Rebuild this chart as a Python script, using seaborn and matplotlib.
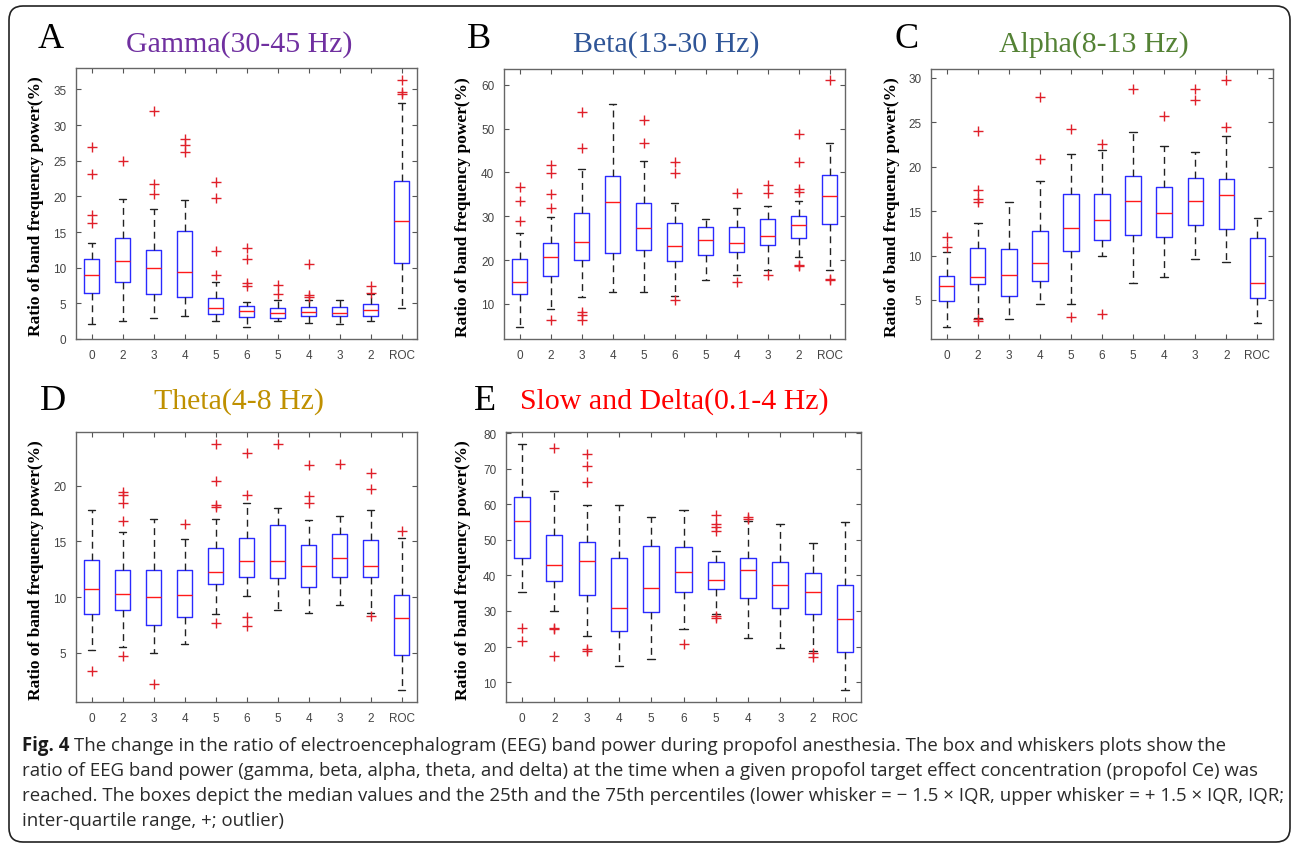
import matplotlib
matplotlib.use("Agg")
import matplotlib.pyplot as plt
import matplotlib.transforms as mtransforms
from matplotlib.patches import FancyBboxPatch
import seaborn as sns

# ---------------------------------------------------------------
# data: box statistics (ratio of band power, %)
# ---------------------------------------------------------------
conc_labels = ["0", "2", "3", "4", "5", "6", "5", "4", "3", "2", "ROC"]

gamma_lo  = [2.1, 2.5, 2.95, 3.2, 2.5, 1.75, 2.5, 2.3, 2.1, 2.5, 4.4]
gamma_q1  = [6.45, 8.05, 6.35, 5.9, 3.5, 3.05, 2.95, 3.2, 3.2, 3.25, 10.7]
gamma_med = [9.0, 11.0, 9.9, 9.35, 4.35, 3.9, 3.65, 3.85, 3.65, 4.05, 16.5]
gamma_q3  = [11.2, 14.2, 12.5, 15.2, 5.8, 4.65, 4.3, 4.55, 4.45, 4.85, 22.1]
gamma_hi  = [13.5, 19.6, 18.25, 19.5, 8.0, 5.25, 5.5, 5.5, 5.4, 6.3, 33.1]
gamma_out = [[16.3, 17.4, 23.2, 26.9], [24.9], [20.4, 21.7, 32.0],
             [26.25, 27.2, 28.0], [9.0, 12.3, 19.75, 22.0],
             [7.4, 7.8, 11.2, 12.8], [6.35, 7.6], [5.9, 6.1, 10.45], [],
             [6.4, 7.4], [34.3, 34.7, 36.3]]

beta_lo  = [4.75, 8.9, 11.6, 12.7, 12.8, 11.8, 15.5, 16.5, 17.8, 20.6, 17.8]
beta_q1  = [12.3, 16.3, 20.0, 21.6, 22.3, 19.9, 21.2, 21.9, 23.4, 25.0, 28.2]
beta_med = [15.1, 20.8, 24.2, 33.2, 27.35, 23.2, 24.7, 24.0, 25.5, 28.0, 34.7]
beta_q3  = [20.2, 23.8, 30.8, 39.3, 33.1, 28.5, 27.5, 27.5, 29.3, 30.1, 39.5]
beta_hi  = [26.1, 29.9, 40.7, 55.6, 42.6, 33.1, 29.3, 32.0, 32.4, 33.5, 46.7]
beta_out = [[28.9, 33.4, 36.6], [6.4, 31.9, 35.0, 39.8, 41.7],
            [6.35, 7.4, 8.2, 45.6, 53.7], [], [46.7, 51.9], [10.9, 39.8, 42.3],
            [], [14.9, 35.4], [16.7, 35.4, 37.2],
            [18.7, 18.9, 35.6, 36.3, 42.3, 48.8], [15.5, 15.8, 61.0]]

alpha_lo  = [2.0, 2.94, 2.82, 4.59, 4.59, 9.95, 6.95, 7.59, 9.65, 9.24, 2.41]
alpha_q1  = [4.85, 6.8, 5.49, 7.1, 10.5, 11.76, 12.28, 12.13, 13.4, 13.03, 5.26]
alpha_med = [6.58, 7.6, 7.78, 9.17, 13.07, 14.0, 16.19, 14.84, 16.19, 16.86, 6.88]
alpha_q3  = [7.74, 10.86, 10.78, 12.8, 16.94, 16.97, 19.0, 17.76, 18.78, 18.66, 11.98]
alpha_hi  = [10.44, 13.67, 16.07, 18.4, 21.4, 21.9, 23.96, 22.38, 21.6, 23.43, 14.27]
alpha_out = [[10.93, 12.1], [2.64, 2.82, 16.0, 16.37, 17.4, 24.0], [],
             [20.9, 27.86], [3.12, 24.2], [3.42, 22.6], [28.76], [25.72],
             [27.5, 28.76], [24.52, 29.74], []]

theta_lo  = [5.27, 5.54, 5.03, 5.8, 8.52, 10.13, 8.85, 8.55, 9.26, 8.61, 1.69]
theta_q1  = [8.46, 8.85, 7.48, 8.19, 11.14, 11.83, 11.71, 10.9, 11.83, 11.8, 4.85]
theta_med = [10.73, 10.25, 10.01, 10.19, 12.25, 13.26, 13.26, 12.75, 13.5, 12.75, 8.1]
theta_q3  = [13.29, 12.46, 12.46, 12.40, 14.42, 15.29, 16.42, 14.63, 15.62, 15.14, 10.16]
theta_hi  = [17.82, 15.83, 16.99, 15.23, 16.99, 18.45, 18.03, 16.87, 17.23, 17.82, 15.29]
theta_out = [[3.36], [4.76, 16.78, 18.45, 19.17, 19.46], [2.17], [16.57],
             [7.68, 18.1, 18.27, 20.42, 23.76], [7.45, 8.19, 19.17, 22.95],
             [23.7], [18.42, 19.1, 21.82], [21.97], [8.28, 19.7, 21.1], [15.89]]

delta_lo  = [35.2, 30.1, 22.9, 14.5, 16.4, 24.8, 29.2, 22.3, 19.7, 18.8, 7.7]
delta_q1  = [44.9, 38.4, 34.4, 24.3, 29.7, 35.2, 36.2, 33.6, 30.8, 29.1, 18.4]
delta_med = [55.4, 43.0, 44.0, 30.8, 36.45, 40.9, 38.6, 41.6, 37.3, 35.2, 27.6]
delta_q3  = [62.15, 51.4, 49.3, 45.0, 48.3, 47.9, 43.8, 44.8, 43.8, 40.65, 37.4]
delta_hi  = [76.8, 63.8, 59.7, 59.7, 56.35, 58.4, 46.9, 55.4, 54.5, 49.1, 55.1]
delta_out = [[21.5, 25.2], [17.3, 24.8, 25.1, 75.8], [18.8, 19.35, 66.3, 70.7, 74.2],
             [], [], [20.65], [27.9, 28.5, 52.4, 53.5, 54.4, 57.0], [55.9, 56.3],
             [], [17.1, 18.2], []]

# ---------------------------------------------------------------
# style
# ---------------------------------------------------------------
sns.set_theme(style="ticks")
plt.rcParams["font.family"] = ["Liberation Sans", "DejaVu Sans"]

W, H = 1292, 845
fig = plt.figure(figsize=(W / 100, H / 100), dpi=100)
fig.patch.set_facecolor("white")

def px_axes(left, top, right, bottom):
    return fig.add_axes([left / W, 1 - bottom / H, (right - left) / W, (bottom - top) / H])

def draw_panel(ax, lo, q1, med, q3, hi, out, yticks, ylim):
    stats = [dict(whislo=a, q1=b, med=c, q3=d, whishi=e, fliers=f)
             for a, b, c, d, e, f in zip(lo, q1, med, q3, hi, out)]
    ax.bxp(stats, positions=range(1, len(stats) + 1), widths=0.5, capwidths=0.25,
           boxprops=dict(color="#2a2aff", lw=1.0),
           medianprops=dict(color="#ff1a1a", lw=1.0),
           whiskerprops=dict(color="#222222", lw=1.0, ls=(0, (5, 3.5))),
           capprops=dict(color="#222222", lw=1.0),
           flierprops=dict(marker="+", markeredgecolor="#e0202a", markersize=7,
                           markeredgewidth=1.0, ls="none"))
    ax.set_xlim(0.5, 11.5)
    ax.set_ylim(*ylim)
    ax.set_xticks(range(1, 12))
    ax.set_xticklabels(conc_labels)
    ax.set_yticks(yticks)
    ax.tick_params(direction="in", top=True, right=True, length=3.5, width=0.8,
                   color="#555555", labelcolor="#444444", labelsize=8.5, pad=7)
    for sp in ax.spines.values():
        sp.set_color("#666666")
        sp.set_linewidth(1.0)

panels = [
    # (axes px box, stats, yticks, ylim, letter, title, colour, letter pos, title pos, ylabel x)
    ((76, 69, 417, 340), (gamma_lo, gamma_q1, gamma_med, gamma_q3, gamma_hi, gamma_out),
     range(0, 36, 5), (0, 38), "A", "Gamma(30-45 Hz)", "#7030a0", (51, 40), (239, 45), 36),
    ((504, 70, 845, 340), (beta_lo, beta_q1, beta_med, beta_q3, beta_hi, beta_out),
     range(10, 61, 10), (2, 63.6), "B", "Beta(13-30 Hz)", "#2f5597", (479, 40), (666, 45), 463),
    ((931, 70, 1273, 340), (alpha_lo, alpha_q1, alpha_med, alpha_q3, alpha_hi, alpha_out),
     range(5, 31, 5), (0.6, 31.0), "C", "Alpha(8-13 Hz)", "#548235", (907, 40), (1094, 45), 892),
    ((76, 433, 417, 703), (theta_lo, theta_q1, theta_med, theta_q3, theta_hi, theta_out),
     range(5, 21, 5), (0.6, 24.8), "D", "Theta(4-8 Hz)", "#bf9000", (53, 402), (239, 402), 36),
    ((506, 433, 861, 703), (delta_lo, delta_q1, delta_med, delta_q3, delta_hi, delta_out),
     range(10, 81, 10), (4.4, 80.3), "E", "Slow and Delta(0.1-4 Hz)", "#ff0000", (485, 402), (674, 402), 463),
]

for box, st, yt, yl, letter, title, col, lpos, tpos, ylx in panels:
    ax = px_axes(*box)
    draw_panel(ax, *st, yticks=list(yt), ylim=yl)
    fig.text(lpos[0] / W, 1 - lpos[1] / H, letter, fontsize=26, family="Liberation Serif",
             color="black", ha="center", va="center")
    fig.text(tpos[0] / W, 1 - tpos[1] / H, title, fontsize=21.5, family="Liberation Serif",
             color=col, ha="center", va="center")
    fig.text(ylx / W, 1 - ((box[1] + box[3]) / 2 + 2) / H, "Ratio of band frequency power(%)",
             rotation=90, fontsize=12.5, family="Liberation Serif", fontweight="bold",
             color="black", ha="center", va="center")

# ---------------------------------------------------------------
# caption
# ---------------------------------------------------------------
cap_lines = [
    "The change in the ratio of electroencephalogram (EEG) band power during propofol anesthesia. The box and whiskers plots show the",
    "ratio of EEG band power (gamma, beta, alpha, theta, and delta) at the time when a given propofol target effect concentration (propofol Ce) was",
    "reached. The boxes depict the median values and the 25th and the 75th percentiles (lower whisker = \u2212 1.5 \u00d7 IQR, upper whisker = + 1.5 \u00d7 IQR, IQR;",
    "inter-quartile range, +; outlier)",
]
cap_y = [746, 771, 796, 821]
cap_end = {1: 1265, 2: 1275}
cap_font = ["Open Sans", "DejaVu Sans"]

renderer = fig.canvas.get_renderer()
cap_size = 20
for i, x_end in cap_end.items():
    probe = fig.text(22 / W, 0.5, cap_lines[i], fontsize=13, family=cap_font)
    w = probe.get_window_extent(renderer).width
    probe.remove()
    cap_size = min(cap_size, 13 * (x_end - 22) / w)

lab = fig.text(22 / W, 1 - cap_y[0] / H, "Fig. 4 ", fontsize=cap_size, family=cap_font,
               fontweight="bold", color="#1a1a1a", va="center", ha="left")
lab_w = lab.get_window_extent(renderer).width
for i, (line, y) in enumerate(zip(cap_lines, cap_y)):
    x0 = 22 + (lab_w if i == 0 else 0)
    fig.text(x0 / W, 1 - y / H, line, fontsize=cap_size, family=cap_font,
             color="#2a2a2a", va="center", ha="left")

# rounded frame around the whole figure
frame = FancyBboxPatch((9, 2), 1281, 836, boxstyle="round,pad=0,rounding_size=14",
                       transform=mtransforms.IdentityTransform(), fill=False,
                       edgecolor="#222222", linewidth=1.2)
fig.add_artist(frame)

fig.savefig("out.png", dpi=100)
